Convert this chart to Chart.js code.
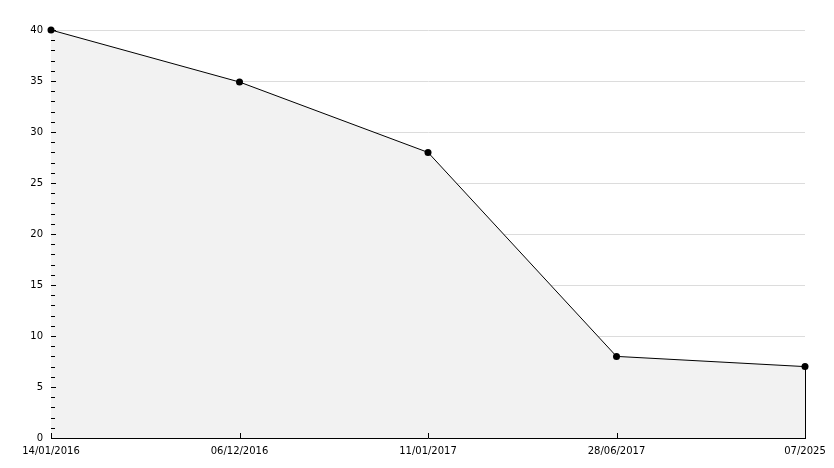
<!DOCTYPE html>
<html>
<head>
<meta charset="utf-8">
<script src="https://cdn.jsdelivr.net/npm/chart.js@4"></script>
<style>
  html, body { margin: 0; padding: 0; background: #fff; }
  #wrap { width: 834px; height: 468px; }
</style>
</head>
<body>
<div id="wrap"><canvas id="chart"></canvas></div>
<script>
const dates = ["14/01/2016", "06/12/2016", "11/01/2017", "28/06/2017", "07/2025"];
const values = [40, 34.9, 28, 8, 7];
const yMax = 40;
const yStep = 5;

// little tick marks drawn inside the plot, majors and minors,
// plus the closing edge of the filled area
const innerTicks = {
  id: "innerTicks",
  afterDraw(chart) {
    const { ctx, scales: { x, y } } = chart;
    ctx.save();
    ctx.strokeStyle = "#000";
    ctx.lineWidth = 1;
    ctx.beginPath();
    for (let v = 0; v <= yMax; v++) {
      const py = Math.round(y.getPixelForValue(v)) + 0.5;
      const len = v % yStep === 0 ? 5 : 4;
      ctx.moveTo(x.left, py);
      ctx.lineTo(x.left + len, py);
    }
    dates.forEach((d, i) => {
      const px = Math.round(x.getPixelForValue(i)) + 0.5;
      ctx.moveTo(px, y.bottom);
      ctx.lineTo(px, y.bottom - 5);
    });
    const last = values.length - 1;
    const lx = Math.round(x.getPixelForValue(last)) + 0.5;
    ctx.moveTo(lx, y.bottom);
    ctx.lineTo(lx, y.getPixelForValue(values[last]));
    ctx.stroke();
    ctx.restore();
  }
};

new Chart(document.getElementById("chart"), {
  type: "line",
  data: {
    labels: dates,
    datasets: [{
      data: values,
      borderColor: "#000",
      borderWidth: 1,
      backgroundColor: "#f2f2f2",
      fill: "origin",
      tension: 0,
      clip: false,
      pointRadius: 3.5,
      pointBackgroundColor: "#000",
      pointBorderColor: "#000",
      pointBorderWidth: 0
    }]
  },
  options: {
    responsive: true,
    maintainAspectRatio: false,
    animation: false,
    layout: { padding: { top: 30, right: 29, left: 0, bottom: 0 } },
    plugins: { legend: { display: false }, tooltip: { enabled: false } },
    scales: {
      x: {
        offset: false,
        afterFit: s => { s.height = 30; },
        grid: { display: false, drawTicks: false },
        border: { color: "#000", width: 1 },
        ticks: {
          color: "#000",
          font: { family: "DejaVu Sans", size: 10 },
          maxRotation: 0,
          autoSkip: false,
          padding: 7
        }
      },
      y: {
        min: 0,
        max: yMax,
        afterFit: s => { s.width = 51; },
        grid: { color: "#dcdcdc", drawTicks: false },
        border: { color: "#000", width: 1 },
        ticks: {
          stepSize: yStep,
          color: "#000",
          font: { family: "DejaVu Sans", size: 10 },
          padding: 8
        }
      }
    }
  },
  plugins: [innerTicks]
});
</script>
</body>
</html>
